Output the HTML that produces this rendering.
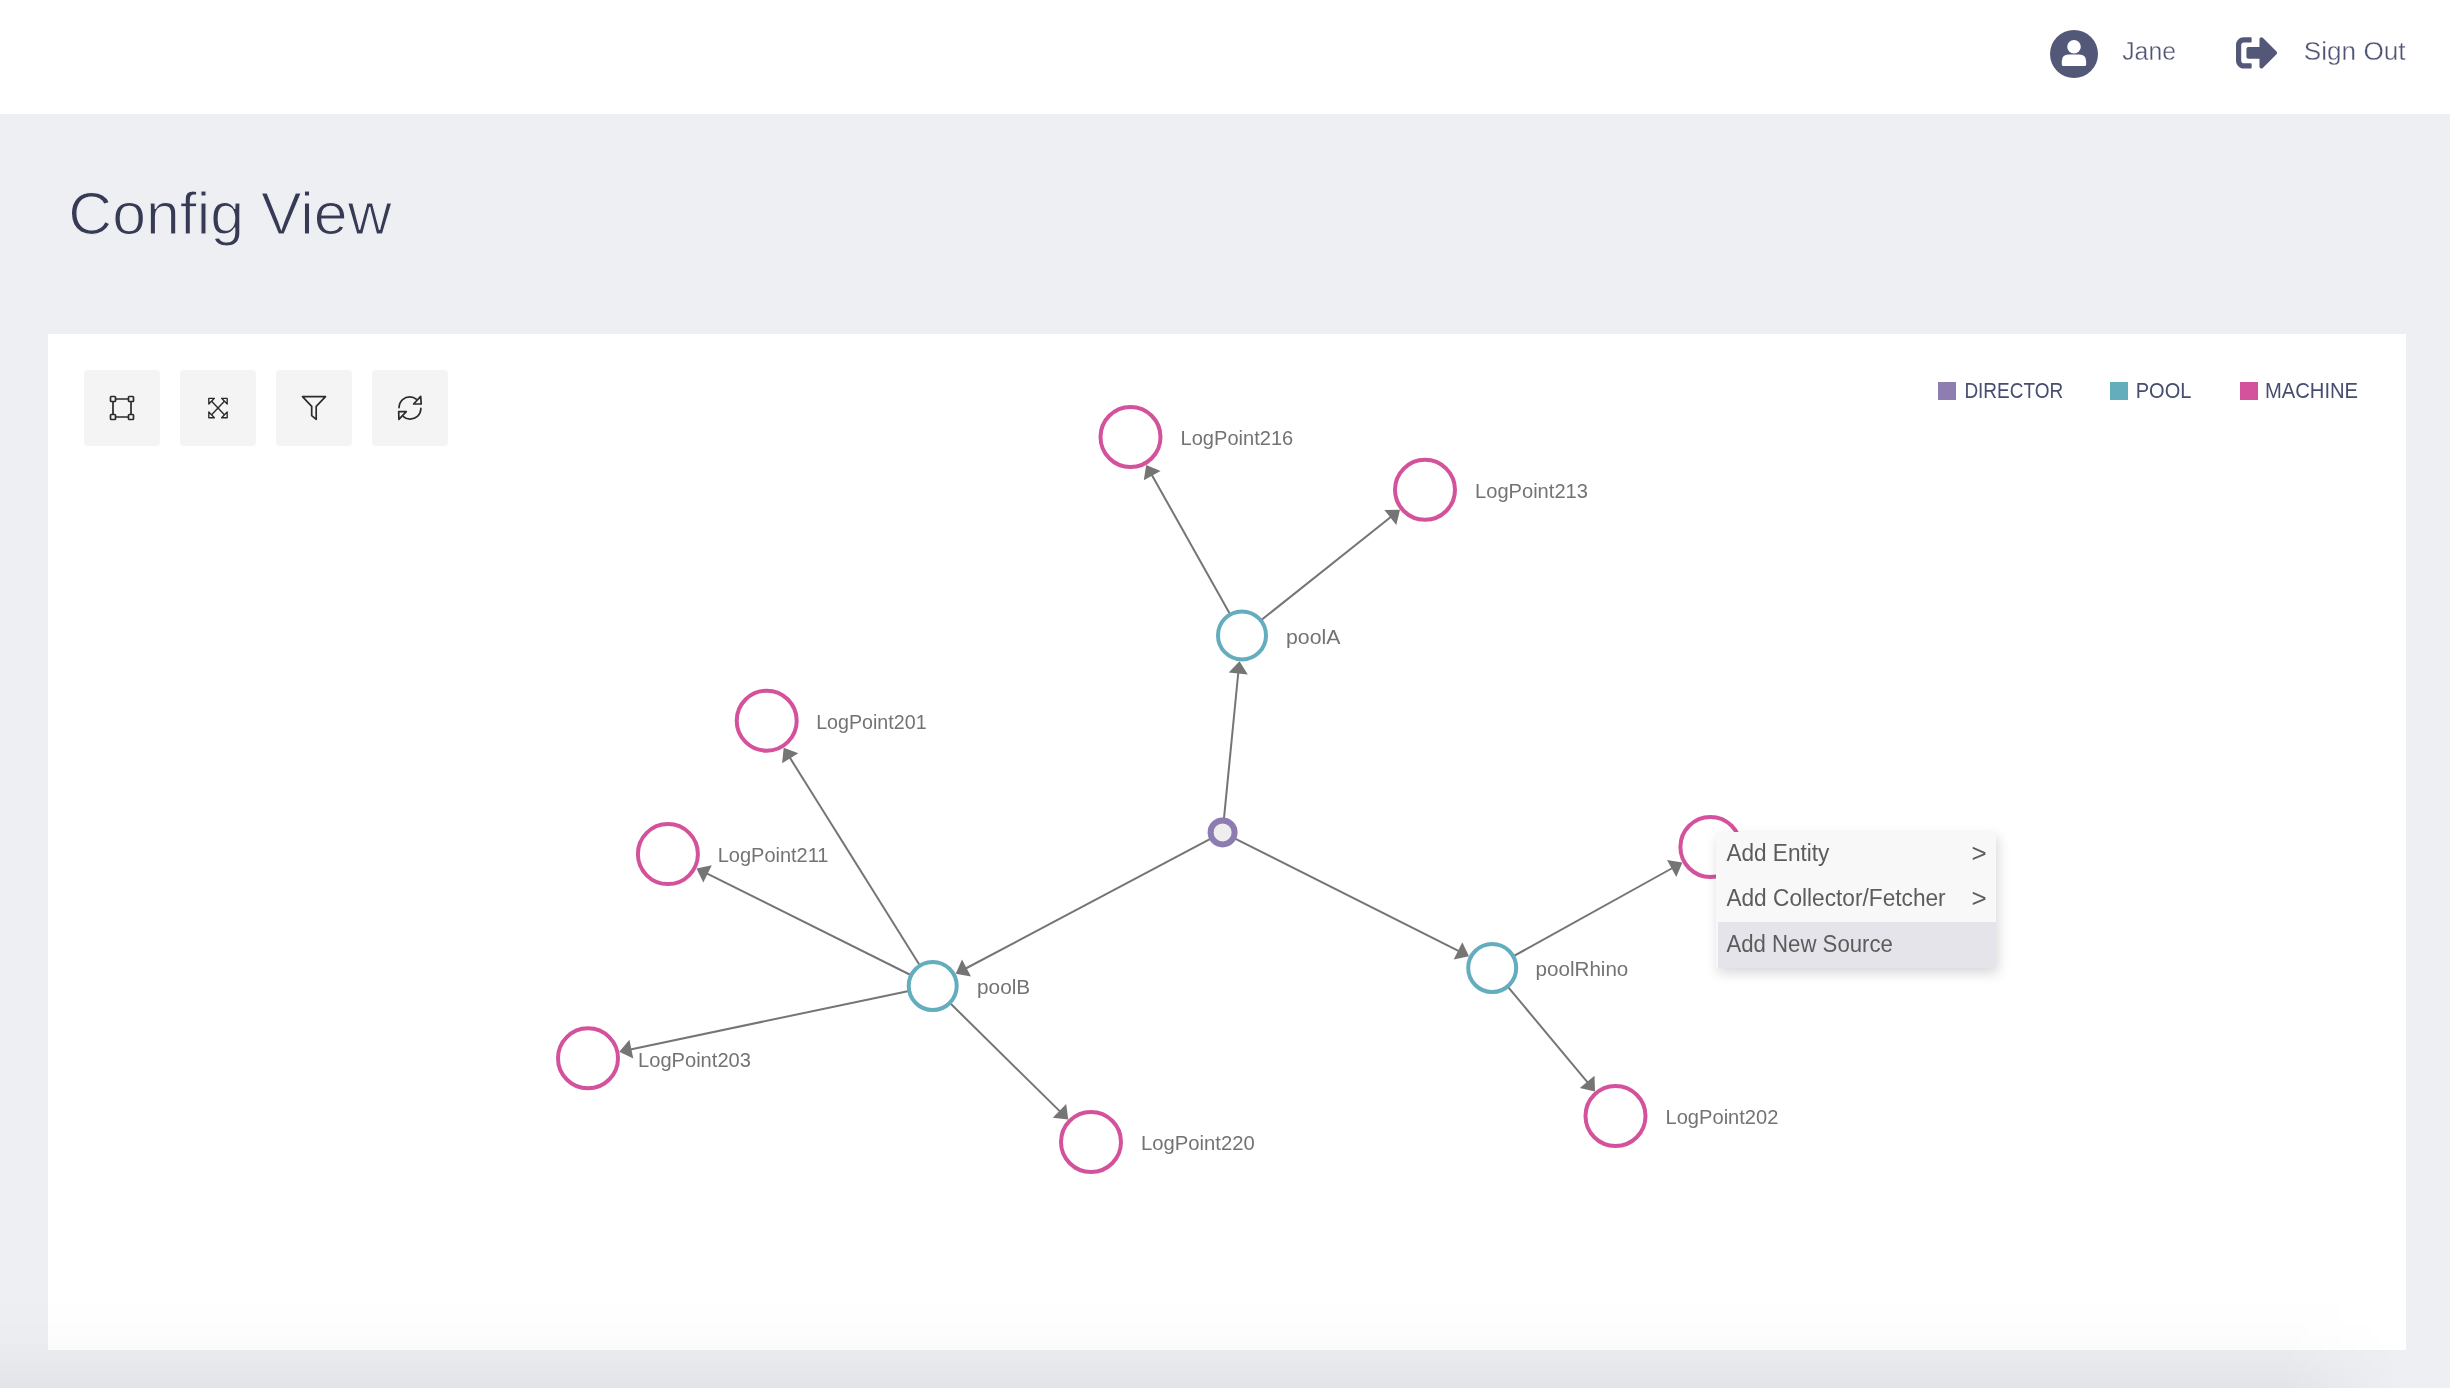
<!DOCTYPE html>
<html><head><meta charset="utf-8"><title>Config View</title>
<style>
html,body{margin:0;padding:0;}
body{width:2450px;height:1388px;overflow:hidden;position:relative;background:#eeeff3;font-family:"Liberation Sans",sans-serif;}
.hdr{position:absolute;left:0;top:0;width:2450px;height:114px;background:#ffffff;}
.panel{position:absolute;left:48px;top:334px;width:2358px;height:1016px;background:#ffffff;}
.btn{position:absolute;top:370px;width:76px;height:76px;background:#f4f4f4;border-radius:4px;}
.sq{position:absolute;top:382px;width:18px;height:18px;}
.menu{position:absolute;left:1716px;top:832px;width:280px;height:136px;background:#f8f8f8;box-shadow:2px 5px 12px rgba(0,0,0,0.16);}
.menu .hl{position:absolute;left:2px;top:90px;width:278px;height:46px;background:#e5e4ea;}
.shade{position:absolute;left:0;top:1296px;width:2450px;height:92px;background:linear-gradient(to bottom,rgba(0,0,0,0) 0%,rgba(0,0,0,0.006) 40%,rgba(0,0,0,0.015) 58%,rgba(0,0,0,0.043) 100%);-webkit-mask-image:linear-gradient(to right,#000 0px,#000 2280px,rgba(0,0,0,0) 2400px);mask-image:linear-gradient(to right,#000 0px,#000 2280px,rgba(0,0,0,0) 2400px);}
svg{position:absolute;left:0;top:0;will-change:transform;}
svg text{font-family:"Liberation Sans",sans-serif;white-space:pre;}
</style></head><body>
<div class="hdr"></div>
<div class="panel"></div>
<div class="btn" style="left:84px"></div>
<div class="btn" style="left:180px"></div>
<div class="btn" style="left:276px"></div>
<div class="btn" style="left:372px"></div>
<div class="sq" style="left:1938px;background:#8e7db0"></div>
<div class="sq" style="left:2110px;background:#63adbd"></div>
<div class="sq" style="left:2240px;background:#d3529b"></div>
<svg width="2450" height="1388" viewBox="0 0 2450 1388">
<g stroke="#757575" stroke-width="2" fill="#757575">
<line x1="1222.6" y1="832.4" x2="1238.3" y2="672.5"/>
<path stroke="none" d="M1239.5 661.3L1247.8 674.5L1228.7 672.6Z"/>
<line x1="1222.6" y1="832.4" x2="965.7" y2="968.5"/>
<path stroke="none" d="M955.7 973.8L962.0 959.6L971.0 976.6Z"/>
<line x1="1222.6" y1="832.4" x2="1458.9" y2="951.2"/>
<path stroke="none" d="M1469.0 956.3L1453.7 959.4L1462.3 942.2Z"/>
<line x1="1242.0" y1="635.4" x2="1151.7" y2="474.7"/>
<path stroke="none" d="M1146.2 464.9L1160.6 470.9L1143.8 480.3Z"/>
<line x1="1242.0" y1="635.4" x2="1391.1" y2="516.8"/>
<path stroke="none" d="M1400.0 509.7L1396.3 524.9L1384.4 509.9Z"/>
<line x1="932.7" y1="986.0" x2="789.7" y2="757.4"/>
<path stroke="none" d="M783.7 747.8L798.3 753.2L782.1 763.3Z"/>
<line x1="932.7" y1="986.0" x2="706.7" y2="873.4"/>
<path stroke="none" d="M696.5 868.4L711.8 865.3L703.3 882.4Z"/>
<line x1="932.7" y1="986.0" x2="630.4" y2="1049.4"/>
<path stroke="none" d="M619.3 1051.7L629.4 1039.8L633.3 1058.6Z"/>
<line x1="932.7" y1="986.0" x2="1060.2" y2="1111.6"/>
<path stroke="none" d="M1068.2 1119.5L1052.7 1117.7L1066.2 1104.1Z"/>
<line x1="1492.2" y1="968.0" x2="1672.5" y2="868.0"/>
<path stroke="none" d="M1682.4 862.5L1676.3 876.9L1667.0 860.1Z"/>
<line x1="1492.2" y1="968.0" x2="1587.8" y2="1082.7"/>
<path stroke="none" d="M1595.0 1091.4L1579.8 1088.1L1594.5 1075.8Z"/>
</g>
<circle cx="1222.6" cy="832.4" r="12" fill="#eeeeee" stroke="#8d7cb0" stroke-width="6"/>
<circle cx="1242.0" cy="635.4" r="24" fill="#ffffff" stroke="#63adbe" stroke-width="4"/>
<circle cx="932.7" cy="986.0" r="24" fill="#ffffff" stroke="#63adbe" stroke-width="4"/>
<circle cx="1492.2" cy="968.0" r="24" fill="#ffffff" stroke="#63adbe" stroke-width="4"/>
<circle cx="1130.5" cy="437.0" r="30" fill="#ffffff" stroke="#d3529b" stroke-width="4"/>
<circle cx="1425.0" cy="489.8" r="30" fill="#ffffff" stroke="#d3529b" stroke-width="4"/>
<circle cx="766.7" cy="720.7" r="30" fill="#ffffff" stroke="#d3529b" stroke-width="4"/>
<circle cx="667.9" cy="854.1" r="30" fill="#ffffff" stroke="#d3529b" stroke-width="4"/>
<circle cx="588.0" cy="1058.3" r="30" fill="#ffffff" stroke="#d3529b" stroke-width="4"/>
<circle cx="1091.0" cy="1142.0" r="30" fill="#ffffff" stroke="#d3529b" stroke-width="4"/>
<circle cx="1615.5" cy="1116.0" r="30" fill="#ffffff" stroke="#d3529b" stroke-width="4"/>
<circle cx="1710.4" cy="847.0" r="30" fill="#ffffff" stroke="#d3529b" stroke-width="4"/>
<!-- user icon -->
<circle cx="2074" cy="54" r="24" fill="#535878"/>
<circle cx="2074" cy="46.7" r="6.8" fill="#ffffff"/>
<path d="M2061.8 64.4V61.2Q2061.8 54.4 2068.6 54.4H2079.3Q2086.1 54.4 2086.1 61.2V64.4Q2086.1 66.1 2084.4 66.1H2063.5Q2061.8 66.1 2061.8 64.4Z" fill="#ffffff"/>
<!-- sign out icon (fa sign-out-alt) -->
<g transform="translate(2236 32) scale(0.0815)" fill="#535878">
<path d="M497 273L329 441c-15 15-41 4.5-41-17v-96H152c-13.3 0-24-10.7-24-24v-96c0-13.3 10.7-24 24-24h136V88c0-21.4 25.9-32 41-17l168 168c9.3 9.4 9.3 24.6 0 34zM192 436v-40c0-6.6-5.4-12-12-12H96c-17.7 0-32-14.3-32-32V160c0-17.7 14.3-32 32-32h84c6.6 0 12-5.4 12-12V76c0-6.6-5.4-12-12-12H96c-53 0-96 43-96 96v192c0 53 43 96 96 96h84c6.6 0 12-5.4 12-12z"/>
</g>
<!-- toolbar icons -->
<g fill="none" stroke="#2b2b2b" stroke-width="1.7" stroke-linejoin="round" stroke-linecap="round">
  <path d="M116 399H128M116 417H128M113 402V414M131 402V414"/>
  <rect x="110.5" y="396.5" width="5" height="5" rx="0.8" fill="#f4f4f4"/>
  <rect x="128.5" y="396.5" width="5" height="5" rx="0.8" fill="#f4f4f4"/>
  <rect x="110.5" y="414.5" width="5" height="5" rx="0.8" fill="#f4f4f4"/>
  <rect x="128.5" y="414.5" width="5" height="5" rx="0.8" fill="#f4f4f4"/>
  <path stroke-width="1.35" d="M211.6 401.2L224.4 414.8M224.4 401.2L211.6 414.8"/>
  <path stroke-width="1.35" fill="#f4f4f4" d="M208.8 398.3H214.4L208.8 404Z M227.2 398.3H221.6L227.2 404Z M208.8 417.7H214.4L208.8 412Z M227.2 417.7H221.6L227.2 412Z"/>
  <path d="M302.5 396.7H325.5L316.2 406.4V419.3L311.7 415.6V406.4Z"/>
  <path d="M399 407.6C399.4 400.5 404.5 396.9 410 396.9C412.6 396.9 414.6 397.8 416.2 399.2"/>
  <path d="M420.9 408.4C420.6 415.5 415.5 419.1 410 419.1C407.4 419.1 405.1 418.2 403.4 416.6"/>
  <path d="M420.7 396.4L421.2 404H413.6Z"/>
  <path d="M398.7 411.7H406.3L398.9 419.3Z"/>
</g>
<text id="t0" x="1285.96" y="643.70" font-size="20.5" fill="#737373" textLength="54.46" lengthAdjust="spacingAndGlyphs">poolA</text>
<text id="t1" x="977.07" y="994.30" font-size="20.5" fill="#737373" textLength="53.10" lengthAdjust="spacingAndGlyphs">poolB</text>
<text id="t2" x="1535.59" y="976.30" font-size="20.5" fill="#737373" textLength="92.75" lengthAdjust="spacingAndGlyphs">poolRhino</text>
<text id="t3" x="1180.53" y="445.30" font-size="20.5" fill="#737373" textLength="112.70" lengthAdjust="spacingAndGlyphs">LogPoint216</text>
<text id="t4" x="1475.02" y="498.10" font-size="20.5" fill="#737373" textLength="112.92" lengthAdjust="spacingAndGlyphs">LogPoint213</text>
<text id="t5" x="816.15" y="729.00" font-size="20.5" fill="#737373" textLength="110.45" lengthAdjust="spacingAndGlyphs">LogPoint201</text>
<text id="t6" x="717.73" y="862.40" font-size="20.5" fill="#737373" textLength="110.78" lengthAdjust="spacingAndGlyphs">LogPoint211</text>
<text id="t7" x="638.02" y="1066.60" font-size="20.5" fill="#737373" textLength="112.92" lengthAdjust="spacingAndGlyphs">LogPoint203</text>
<text id="t8" x="1141.01" y="1150.30" font-size="20.5" fill="#737373" textLength="113.73" lengthAdjust="spacingAndGlyphs">LogPoint220</text>
<text id="t9" x="1665.53" y="1124.30" font-size="20.5" fill="#737373" textLength="112.90" lengthAdjust="spacingAndGlyphs">LogPoint202</text>
<text id="t10" x="2122.23" y="59.90" font-size="26.5" fill="#4f5475" textLength="53.79" lengthAdjust="spacingAndGlyphs" stroke="#ffffff" stroke-width="0.35">Jane</text>
<text id="t11" x="2303.82" y="59.70" font-size="26.5" fill="#4f5475" textLength="101.71" lengthAdjust="spacingAndGlyphs" stroke="#ffffff" stroke-width="0.35">Sign Out</text>
<text id="t12" x="68.33" y="234.00" font-size="59" fill="#373a55" textLength="323.22" lengthAdjust="spacingAndGlyphs" stroke="#eeeff3" stroke-width="1.2">Config View</text>
<text id="t13" x="1964.39" y="398.40" font-size="21.5" fill="#474d6e" textLength="98.75" lengthAdjust="spacingAndGlyphs">DIRECTOR</text>
<text id="t14" x="2135.72" y="398.40" font-size="21.5" fill="#474d6e" textLength="55.63" lengthAdjust="spacingAndGlyphs">POOL</text>
<text id="t15" x="2264.88" y="398.40" font-size="21.5" fill="#474d6e" textLength="93.23" lengthAdjust="spacingAndGlyphs">MACHINE</text>
</svg>
<div class="menu"><div class="hl"></div></div>
<svg width="2450" height="1388" viewBox="0 0 2450 1388">
<text id="t16" x="1726.40" y="860.50" font-size="23.5" fill="#5c5c5c" textLength="102.93" lengthAdjust="spacingAndGlyphs">Add Entity</text>
<text id="t17" x="1726.40" y="906.10" font-size="23.5" fill="#5c5c5c" textLength="219.28" lengthAdjust="spacingAndGlyphs">Add Collector/Fetcher</text>
<text id="t18" x="1726.41" y="952.10" font-size="23.5" fill="#5c5c5c" textLength="166.47" lengthAdjust="spacingAndGlyphs">Add New Source</text>
<text id="t19" x="1971.58" y="861.80" font-size="26.5" fill="#5c5c5c" textLength="15.14" lengthAdjust="spacingAndGlyphs">&gt;</text>
<text id="t20" x="1971.58" y="907.40" font-size="26.5" fill="#5c5c5c" textLength="15.14" lengthAdjust="spacingAndGlyphs">&gt;</text>
</svg>
<div class="shade"></div>
</body></html>
